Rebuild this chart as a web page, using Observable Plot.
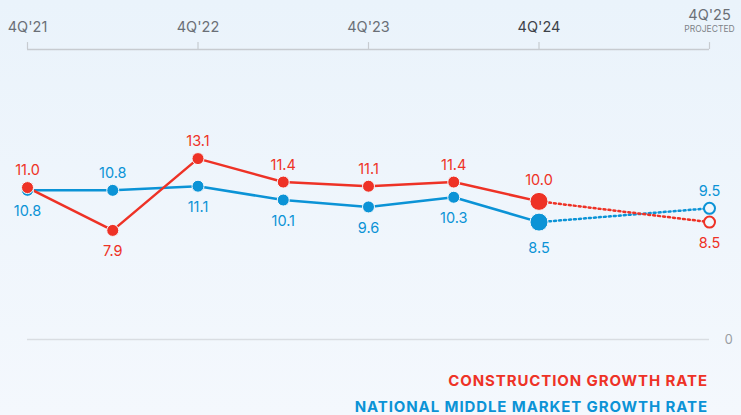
<!DOCTYPE html>
<html>
<head>
<meta charset="utf-8">
<script src="https://cdn.jsdelivr.net/npm/d3@7"></script>
<script src="https://cdn.jsdelivr.net/npm/@observablehq/plot@0.6"></script>
<style>
  html, body { margin: 0; padding: 0; }
  body {
    width: 741px; height: 415px; overflow: hidden;
    background: linear-gradient(#eaf3fb, #f4f8fd);
    font-family: Inter, "Open Sans", sans-serif;
  }
  #legend { text-align: right; padding-right: 33px; margin-top: 6px; }
  #legend div { font-weight: 700; font-size: 15px; letter-spacing: 0.9px; line-height: 26px; }
</style>
</head>
<body>
<div id="chart"></div>
<div id="legend"></div>
<script>
// ---- data ----
const periods = ["4Q'21", "2Q'22", "4Q'22", "2Q'23", "4Q'23", "2Q'24", "4Q'24", "4Q'25"];
const construction = [11.0, 7.9, 13.1, 11.4, 11.1, 11.4, 10.0, 8.5];
const national = [10.8, 10.8, 11.1, 10.1, 9.6, 10.3, 8.5, 9.5];
const tickLabels = ["4Q'21", "4Q'22", "4Q'23", "4Q'24", "4Q'25"];
const latestPeriod = "4Q'24";
const projectedPeriod = "4Q'25";
const projectedNote = "PROJECTED";
const seriesNames = ["CONSTRUCTION GROWTH RATE", "NATIONAL MIDDLE MARKET GROWTH RATE"];
const seriesColors = ["#ee3226", "#0b93d6"];

// ---- derived ----
const toTime = (p) => { const q = +p[0], y = +p.slice(3); return y + (q - 4) / 4; };
const rows = [];
// national drawn first so construction sits on top
periods.forEach((p, i) => {
  const c = construction[i], n = national[i];
  rows.push({series: seriesNames[1], period: p, t: toTime(p), v: n, above: n > c});
});
periods.forEach((p, i) => {
  const c = construction[i], n = national[i];
  rows.push({series: seriesNames[0], period: p, t: toTime(p), v: c, above: c >= n});
});
const actual = rows.filter(d => d.period !== projectedPeriod);
const projected = rows.filter(d => d.period === latestPeriod || d.period === projectedPeriod);
const ticks = tickLabels.map(l => ({label: l, t: toTime(l)}));
const yTop = 21;
const bg = "#f1f7fc";
const colorScale = {domain: seriesNames, range: seriesColors};

const labelText = (d) => d.v.toFixed(1);
const isLatest = d => d.period === latestPeriod;
const labelOpts = {x: "t", y: "v", text: labelText, fill: "series", fontSize: 14.5, fontWeight: 400};

const chart = Plot.plot({
  width: 741,
  height: 362,
  marginLeft: 27,
  marginRight: 32,
  marginTop: 49,
  marginBottom: 23,
  style: {background: "transparent", fontFamily: "Inter, 'Open Sans', sans-serif"},
  x: {domain: [toTime(tickLabels[0]), toTime(tickLabels[tickLabels.length - 1])], axis: null},
  y: {domain: [0, yTop], axis: null},
  color: colorScale,
  marks: [
    Plot.ruleY([0], {stroke: "#d9dde2", strokeWidth: 1.5}),
    Plot.axisY({anchor: "right", ticks: [0], tickSize: 0, tickPadding: 15, fontSize: 13, color: "#9a9ea3", label: null}),
    Plot.ruleY([yTop], {x1: ticks[0].t, x2: ticks[ticks.length - 1].t, stroke: "#c7cbd0", strokeWidth: 1.5}),
    Plot.ruleX(ticks, {x: "t", y1: yTop, y2: yTop + 0.5, stroke: "#c7cbd0", strokeWidth: 1.2}),
    Plot.text(ticks.filter(d => d.label !== projectedPeriod), {
      x: "t", y: yTop, dy: -22, text: "label", fontSize: 14.5,
      fill: d => d.label === latestPeriod ? "#3d4249" : "#6a6f76",
      fontWeight: d => d.label === latestPeriod ? 700 : 400
    }),
    Plot.text(ticks.filter(d => d.label === projectedPeriod), {
      x: "t", y: yTop, dy: -34, text: "label", fontSize: 14.5, fill: "#6a6f76"
    }),
    Plot.text(ticks.filter(d => d.label === projectedPeriod), {
      x: "t", y: yTop, dy: -20, text: () => projectedNote, fontSize: 8.5, fill: "#7d8288", letterSpacing: 0.5
    }),
    Plot.line(actual, {x: "t", y: "v", z: "series", stroke: "series", strokeWidth: 2.5}),
    Plot.line(projected, {x: "t", y: "v", z: "series", stroke: "series", strokeWidth: 2.5, strokeDasharray: "2 3"}),
    Plot.dot(actual.filter(d => !isLatest(d)), {x: "t", y: "v", fill: "series", r: 6, stroke: "#f4f9fd", strokeWidth: 1}),
    Plot.dot(actual.filter(isLatest), {x: "t", y: "v", fill: "series", r: 9, stroke: "#f4f9fd", strokeWidth: 1}),
    Plot.dot(rows.filter(d => d.period === projectedPeriod), {x: "t", y: "v", fill: bg, stroke: "series", r: 5.5, strokeWidth: 2}),
    Plot.text(rows.filter(d => d.above && !isLatest(d)), {...labelOpts, dy: -17}),
    Plot.text(rows.filter(d => !d.above && !isLatest(d)), {...labelOpts, dy: 21}),
    Plot.text(rows.filter(d => d.above && isLatest(d)), {...labelOpts, dy: -21}),
    Plot.text(rows.filter(d => !d.above && isLatest(d)), {...labelOpts, dy: 26})
  ]
});
document.getElementById("chart").append(chart);

const legend = document.getElementById("legend");
seriesNames.forEach((s, i) => {
  const div = document.createElement("div");
  div.textContent = s;
  div.style.color = seriesColors[i];
  legend.append(div);
});
</script>
</body>
</html>
